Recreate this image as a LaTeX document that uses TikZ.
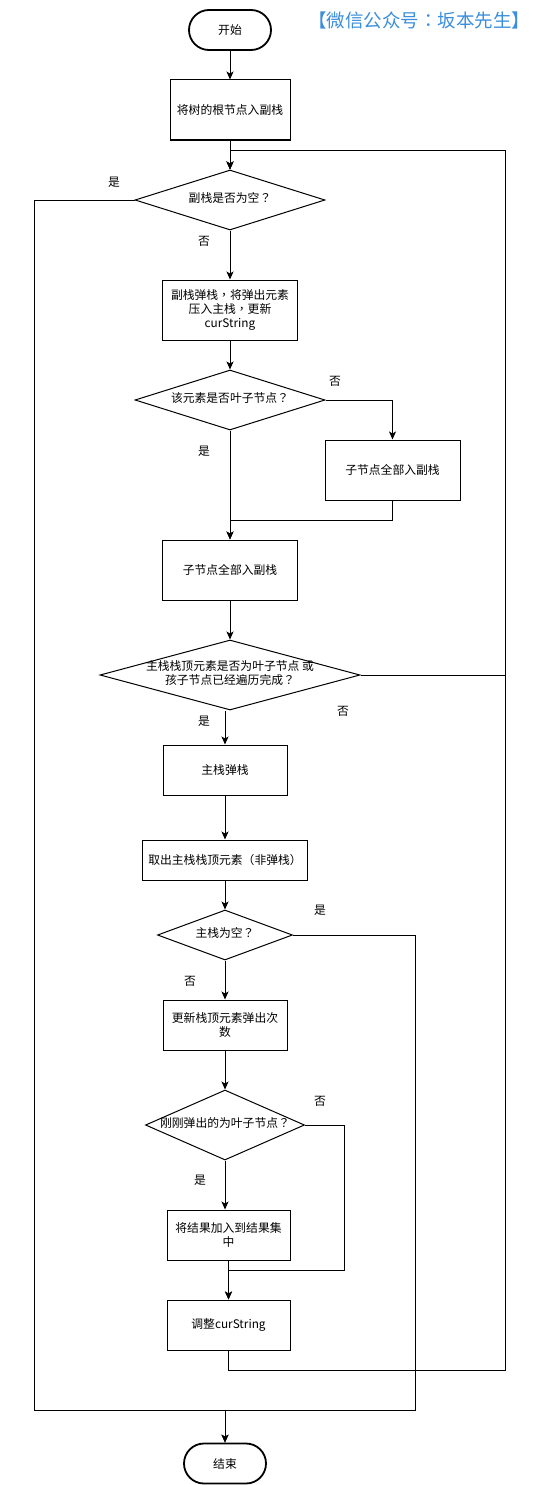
\documentclass[tikz,border=0pt]{standalone}
\usepackage{fontspec}
\setmainfont{Noto Sans CJK SC}
\newfontfamily\tcf{Noto Sans CJK TC}
\usetikzlibrary{shapes.geometric,arrows.meta}
\definecolor{wxblue}{RGB}{58,142,220}
\newcommand{\dtxt}[1]{\makebox[0pt]{\begin{tabular}{@{}c@{}}#1\end{tabular}}}
\newcommand{\qm}{{\tcf ？}}
\newcommand{\cm}{{\tcf ，}}

\begin{document}
\begin{tikzpicture}[x=1pt,y=-1pt,
		every node/.style={font=\fontsize{11.8}{14}\selectfont},
		proc/.style={draw,line width=1pt,align=center,inner sep=2pt},
		dec/.style={draw,diamond,line width=1pt,inner sep=0pt},
		term/.style={draw,line width=1.8pt,rounded corners=20pt,minimum width=82pt,minimum height=40pt},
		flow/.style={line width=1pt,-{Stealth[length=8pt,width=7pt,inset=2pt]}},
		yn/.style={inner sep=0pt}]
		\useasboundingbox (0,0) rectangle (553,1485);

		\node[text=wxblue,font=\fontsize{18.5}{22}\selectfont] (wm) at (419,20) {【微信公众号{\tcf ：}坂本先生】};

		\node[term] (st) at (230,30) {开始};
		\node[proc,minimum width=120pt,minimum height=60pt] (b1) at (230,110) {将树的根节点入副栈};
		\node[dec,minimum width=190pt,minimum height=60pt] (d1) at (230,200) {\dtxt{副栈是否为空\qm}};
		\node[proc,minimum width=135pt,minimum height=60pt] (b2) at (230,310) {副栈弹栈\cm 将弹出元素\\压入主栈\cm 更新\\curString};
		\node[dec,minimum width=190pt,minimum height=60pt] (d2) at (230,400) {\dtxt{该元素是否叶子节点\qm}};
		\node[proc,minimum width=135pt,minimum height=60pt] (b3) at (392.5,470) {子节点全部入副栈};
		\node[proc,minimum width=135pt,minimum height=60pt] (b4) at (230,570) {子节点全部入副栈};
		\node[dec,minimum width=260pt,minimum height=70pt] (d3) at (230,675) {\dtxt{主栈栈顶元素是否为叶子节点 或\\孩子节点已经遍历完成\qm}};
		\node[proc,minimum width=124pt,minimum height=50pt] (b5) at (225,770) {主栈弹栈};
		\node[proc,minimum width=165pt,minimum height=40pt] (b6) at (225,860) {取出主栈栈顶元素（非弹栈）};
		\node[dec,minimum width=135pt,minimum height=50pt] (d4) at (225,935) {\dtxt{主栈为空\qm}};
		\node[proc,minimum width=124pt,minimum height=50pt] (b7) at (225,1025) {更新栈顶元素弹出次\\数};
		\node[dec,minimum width=159pt,minimum height=70pt] (d5) at (225,1125) {\dtxt{刚刚弹出的为叶子节点\qm}};
		\node[proc,minimum width=123pt,minimum height=50pt] (b8) at (228.5,1235) {将结果加入到结果集\\中};
		\node[proc,minimum width=123pt,minimum height=50pt] (b9) at (228.5,1325) {调整curString};
		\node[term] (en) at (225,1463.5) {结束};

		\coordinate (rail) at (505,150);
		\coordinate (lrail) at (34.5,1410);
		\coordinate (mrail) at (415,1410);
		\coordinate (j1) at (392.5,520);
		\coordinate (j2) at (344.5,1270);
		\coordinate (j3) at (505,1370);

		\draw[flow] (st) -- (b1);
		\draw[flow] (b1) -- (d1);
		\draw[flow] (d1.west) -| (lrail) -| (en.north);
		\draw[flow] (d1) -- (b2);
		\draw[flow] (b2) -- (d2);
		\draw[flow] (d2.east) -| (b3.north);
		\draw[flow] (d2) -- (b4);
		\draw[flow] (b3.south) -- (j1) -| (b4.north);
		\draw[flow] (b4) -- (d3);
		\draw[flow] (d3.east) -| (rail) -| (d1.north);
		\draw[flow] (d3.south -| b5.north) -- (b5.north);
		\draw[flow] (b5) -- (b6);
		\draw[flow] (b6) -- (d4);
		\draw[flow] (d4.east) -| (mrail) -| (en.north);
		\draw[flow] (d4) -- (b7);
		\draw[flow] (b7) -- (d5);
		\draw[flow] (d5.east) -| (j2) -| (b9.north);
		\draw[flow] (d5.south) -- (d5.south |- b8.north);
		\draw[flow] (b8) -- (b9);
		\draw[flow] (b9.south) |- (j3) -- (rail) -| (d1.north);

		\node[yn] (l1) at (114,182) {是};
		\node[yn] (l2) at (204,241) {否};
		\node[yn] (l3) at (335,381) {否};
		\node[yn] (l4) at (204,451) {是};
		\node[yn] (l5) at (343,711) {否};
		\node[yn] (l6) at (204,721) {是};
		\node[yn] (l7) at (320,910) {是};
		\node[yn] (l8) at (190,981) {否};
		\node[yn] (l9) at (320,1101) {否};
		\node[yn] (l10) at (200,1180) {是};
\end{tikzpicture}
\end{document}
